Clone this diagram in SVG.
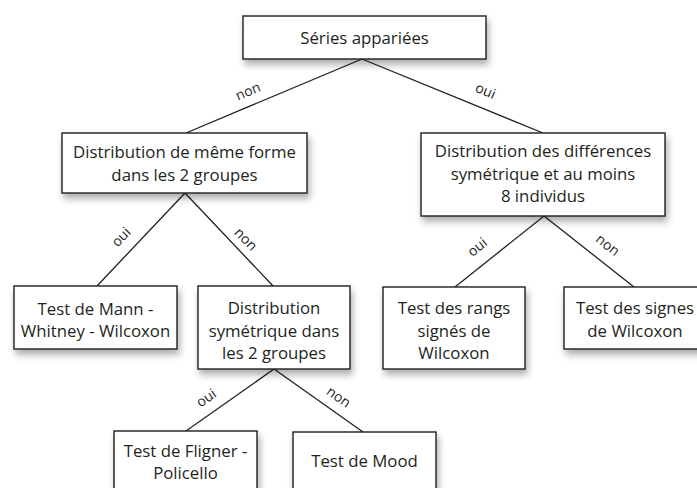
<svg xmlns="http://www.w3.org/2000/svg" width="697" height="488" viewBox="0 0 697 488">
<style>
.box{fill:#fff;stroke:#231f20;stroke-width:1.4;filter:url(#sh)}
.t{font-family:"Open Sans","Noto Sans","DejaVu Sans",sans-serif;font-size:16.8px;fill:#231f20;text-anchor:middle}
.l{font-family:"Open Sans","Noto Sans","DejaVu Sans",sans-serif;font-size:14px;fill:#231f20;text-anchor:middle}
.c line{stroke:#231f20;stroke-width:1.3}
</style>
<defs>
<filter id="sh" x="-20%" y="-30%" width="140%" height="170%">
<feDropShadow dx="2" dy="5" stdDeviation="3.5" flood-color="#000" flood-opacity="0.32"/>
</filter>
</defs>
<rect width="697" height="488" fill="#fff"/>
<g class="c" id="connectors">
<line x1="362" y1="59" x2="186" y2="133"/>
<line x1="362" y1="59" x2="543" y2="133"/>
<line x1="185" y1="193" x2="97" y2="286"/>
<line x1="185" y1="193" x2="273" y2="286"/>
<line x1="274" y1="369" x2="186" y2="431"/>
<line x1="274" y1="369" x2="363" y2="432"/>
<line x1="544" y1="216" x2="455" y2="287"/>
<line x1="544" y1="216" x2="634" y2="287"/>
<text class="l" transform="translate(248.5,92.5) rotate(-22.5)" y="3.5">non</text>
<text class="l" transform="translate(485,92) rotate(22.2)" y="3.5">oui</text>
<text class="l" transform="translate(122,238) rotate(-46)" y="3.5">oui</text>
<text class="l" transform="translate(245,240) rotate(46)" y="3.5">non</text>
<text class="l" transform="translate(207,399) rotate(-35)" y="3.5">oui</text>
<text class="l" transform="translate(338,398) rotate(35)" y="3.5">non</text>
<text class="l" transform="translate(478,248) rotate(-38.6)" y="3.5">oui</text>
<text class="l" transform="translate(607,246) rotate(38.3)" y="3.5">non</text>
</g>
<g id="n-series">
<rect class="box" x="243" y="16" width="243" height="43"/>
<text class="t" x="364.5" y="44">Séries appariées</text>
</g>
<g id="n-forme">
<rect class="box" x="62" y="133" width="245" height="60"/>
<text class="t" x="184.5" y="158">Distribution de même forme</text>
<text class="t" x="184.5" y="181">dans les 2 groupes</text>
</g>
<g id="n-diff">
<rect class="box" x="421" y="133" width="244" height="83"/>
<text class="t" x="543" y="157">Distribution des différences</text>
<text class="t" x="543" y="179.5">symétrique et au moins</text>
<text class="t" x="543" y="202">8 individus</text>
</g>
<g id="n-mann">
<rect class="box" x="14" y="286" width="163" height="63"/>
<text class="t" x="95.5" y="315">Test de Mann -</text>
<text class="t" x="95.5" y="337">Whitney - Wilcoxon</text>
</g>
<g id="n-sym">
<rect class="box" x="198" y="286" width="152" height="83"/>
<text class="t" x="274" y="314">Distribution</text>
<text class="t" x="274" y="336.5">symétrique dans</text>
<text class="t" x="274" y="359">les 2 groupes</text>
</g>
<g id="n-rangs">
<rect class="box" x="383" y="287" width="142" height="82"/>
<text class="t" x="454" y="314">Test des rangs</text>
<text class="t" x="454" y="337">signés de</text>
<text class="t" x="454" y="359">Wilcoxon</text>
</g>
<g id="n-signes">
<rect class="box" x="564" y="287" width="142" height="62"/>
<text class="t" x="635" y="314">Test des signes</text>
<text class="t" x="635" y="337">de Wilcoxon</text>
</g>
<g id="n-fligner">
<rect class="box" x="114" y="431" width="143" height="64"/>
<text class="t" x="185.5" y="457">Test de Fligner -</text>
<text class="t" x="185.5" y="479">Policello</text>
</g>
<g id="n-mood">
<rect class="box" x="293" y="432" width="143" height="63"/>
<text class="t" x="364.5" y="467">Test de Mood</text>
</g>
</svg>
